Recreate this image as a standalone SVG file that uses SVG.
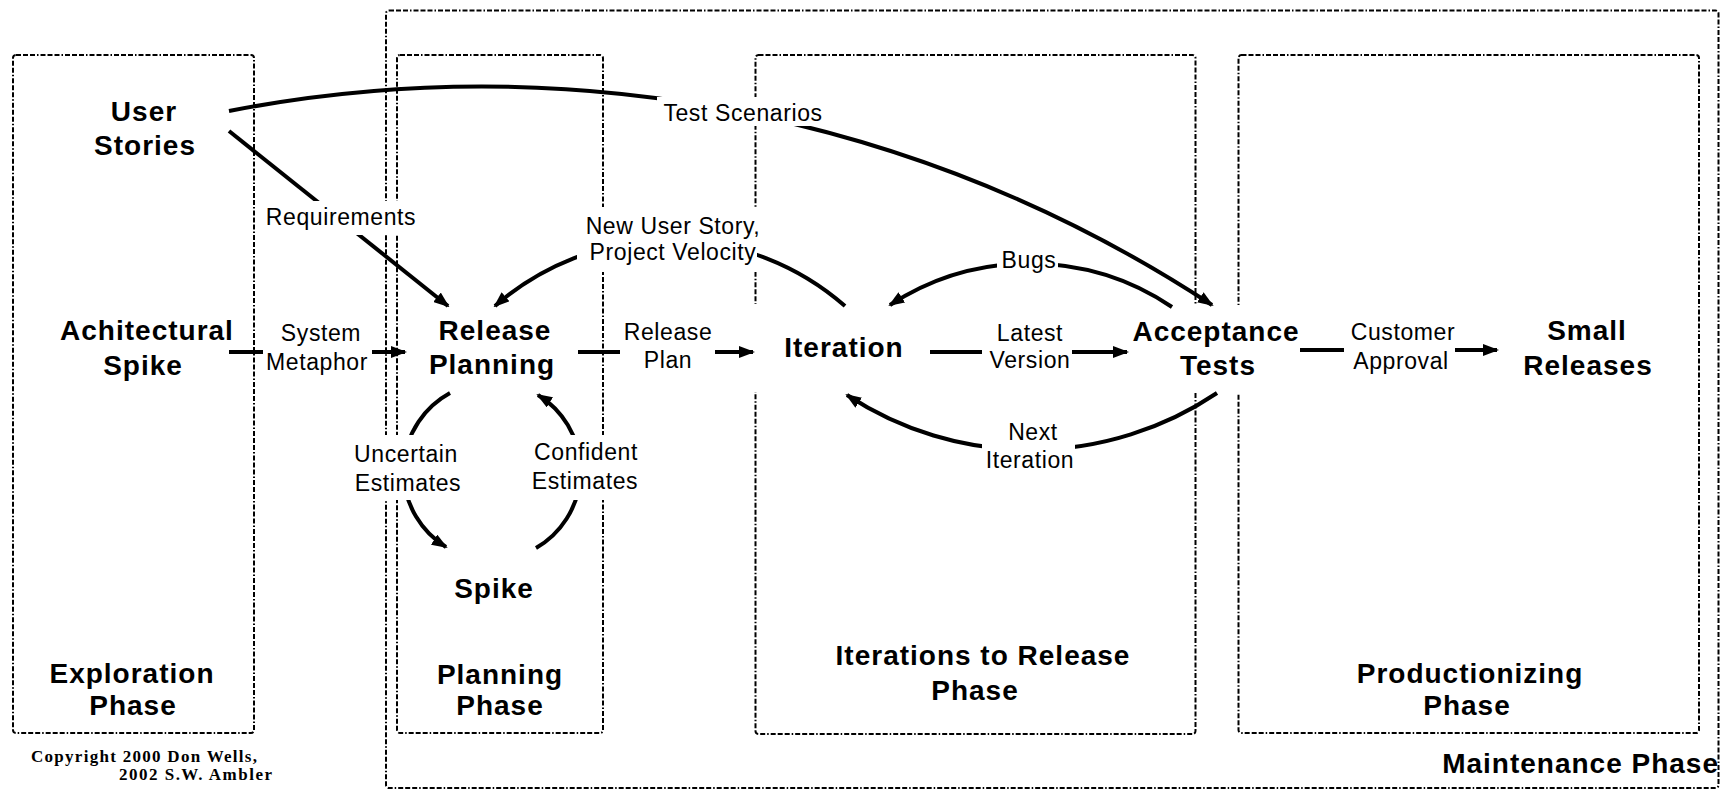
<svg xmlns="http://www.w3.org/2000/svg" width="1732" height="790" viewBox="0 0 1732 790">
<defs>
<style>
.phase{fill:none;stroke:#000;stroke-width:2;stroke-dasharray:5 2 5 2 5 2 1.5 2}
.node{font-family:"Liberation Sans",Arial,sans-serif;font-weight:bold;font-size:28px;letter-spacing:1px;text-anchor:middle;fill:#000}
.lbl{font-family:"Liberation Sans",Arial,sans-serif;font-size:23px;letter-spacing:0.6px;text-anchor:middle;fill:#000}
.bg{fill:#fff;stroke:none}
.conn{fill:none;stroke:#000;stroke-width:4}
.copy{font-family:"Liberation Serif","Times New Roman",serif;font-weight:bold;font-size:17px;fill:#000}
</style>
<marker id="arrow" markerUnits="userSpaceOnUse" markerWidth="16" markerHeight="12" viewBox="0 0 16 12" refX="14" refY="6" orient="auto">
<path d="M0,0 L16,6 L0,12 z" fill="#000"/>
</marker>
</defs>
<rect width="1732" height="790" fill="#fff"/>

<g id="phases">
<g id="maintenance-phase">
<rect class="phase" x="386" y="10.5" width="1332.5" height="777.5" rx="3"/>
<text class="node" x="1719" y="773" style="text-anchor:end">Maintenance Phase</text>
</g>
<g id="exploration-phase">
<rect class="phase" x="13" y="55" width="241" height="678" rx="3"/>
<text class="node" x="132" y="683">Exploration</text>
<text class="node" x="133" y="715">Phase</text>
</g>
<g id="planning-phase">
<rect class="phase" x="397" y="55" width="206" height="678" rx="3"/>
<text class="node" x="500" y="684">Planning</text>
<text class="node" x="500" y="715">Phase</text>
</g>
<g id="iterations-phase">
<rect class="phase" x="755.5" y="55" width="440" height="679" rx="3"/>
<text class="node" x="983" y="665">Iterations to Release</text>
<text class="node" x="975" y="700">Phase</text>
</g>
<g id="productionizing-phase">
<rect class="phase" x="1238.5" y="55" width="460.5" height="678" rx="3"/>
<text class="node" x="1470" y="683">Productionizing</text>
<text class="node" x="1467" y="715">Phase</text>
</g>
</g>

<g id="node-user-stories">
<rect class="bg" x="88" y="95" width="141" height="68"/>
<text class="node" x="144" y="121">User</text>
<text class="node" x="145" y="155">Stories</text>
</g>
<g id="node-architectural-spike">
<rect class="bg" x="56" y="316" width="173" height="68"/>
<text class="node" x="147" y="340">Achitectural</text>
<text class="node" x="143" y="375">Spike</text>
</g>
<g id="node-release-planning">
<rect class="bg" x="405" y="306" width="173" height="87"/>
<text class="node" x="495" y="340">Release</text>
<text class="node" x="492" y="374">Planning</text>
</g>
<g id="node-iteration">
<rect class="bg" x="753" y="304" width="177" height="88"/>
<text class="node" x="844" y="357">Iteration</text>
</g>
<g id="node-acceptance-tests">
<rect class="bg" x="1127" y="305" width="173" height="88"/>
<text class="node" x="1216" y="341">Acceptance</text>
<text class="node" x="1218" y="375">Tests</text>
</g>
<g id="node-small-releases">
<rect class="bg" x="1497" y="316" width="170" height="68"/>
<text class="node" x="1587" y="340">Small</text>
<text class="node" x="1588" y="375">Releases</text>
</g>
<g id="node-spike">
<rect class="bg" x="440" y="548" width="110" height="60"/>
<text class="node" x="494" y="598">Spike</text>
</g>

<g id="connectors">
<path class="conn" d="M229 111 A1331 1331 0 0 1 1212 305" marker-end="url(#arrow)"/>
<path class="conn" d="M229 131 L448 306" marker-end="url(#arrow)"/>
<path class="conn" d="M845 306 A265.5 265.5 0 0 0 495 306" marker-end="url(#arrow)"/>
<path class="conn" d="M1172 307 A255.4 255.4 0 0 0 890 305" marker-end="url(#arrow)"/>
<path class="conn" d="M1217 393 A334 334 0 0 1 847 395" marker-end="url(#arrow)"/>
<path class="conn" d="M450 393 A89 89 0 0 0 446 547" marker-end="url(#arrow)"/>
<path class="conn" d="M536 548 A89 89 0 0 0 538 395" marker-end="url(#arrow)"/>
<path class="conn" d="M229 352 L405 352" marker-end="url(#arrow)"/>
<path class="conn" d="M578 352 L753 352" marker-end="url(#arrow)"/>
<path class="conn" d="M930 352 L1127 352" marker-end="url(#arrow)"/>
<path class="conn" d="M1300 350 L1497 350" marker-end="url(#arrow)"/>

<g id="label-test-scenarios">
<rect class="bg" x="657" y="97" width="171" height="29"/>
<text class="lbl" x="743" y="121">Test Scenarios</text>
</g>
<g id="label-requirements">
<rect class="bg" x="262" y="201" width="158" height="34"/>
<text class="lbl" x="341" y="225">Requirements</text>
</g>
<g id="label-new-user-story">
<rect class="bg" x="577" y="207" width="180" height="65"/>
<text class="lbl" x="673" y="234">New User Story,</text>
<text class="lbl" x="673" y="260">Project Velocity</text>
</g>
<g id="label-bugs">
<rect class="bg" x="997" y="247" width="61" height="28"/>
<text class="lbl" x="1029" y="268">Bugs</text>
</g>
<g id="label-system-metaphor">
<rect class="bg" x="263" y="320" width="109" height="56"/>
<text class="lbl" x="321" y="341">System</text>
<text class="lbl" x="317" y="370">Metaphor</text>
</g>
<g id="label-release-plan">
<rect class="bg" x="620" y="320" width="95" height="56"/>
<text class="lbl" x="668" y="340">Release</text>
<text class="lbl" x="668" y="368">Plan</text>
</g>
<g id="label-latest-version">
<rect class="bg" x="982" y="320" width="90" height="56"/>
<text class="lbl" x="1030" y="341">Latest</text>
<text class="lbl" x="1030" y="368">Version</text>
</g>
<g id="label-customer-approval">
<rect class="bg" x="1344" y="320" width="111" height="56"/>
<text class="lbl" x="1403" y="340">Customer</text>
<text class="lbl" x="1401" y="369">Approval</text>
</g>
<g id="label-next-iteration">
<rect class="bg" x="982" y="420" width="93" height="55"/>
<text class="lbl" x="1033" y="440">Next</text>
<text class="lbl" x="1030" y="468">Iteration</text>
</g>
<g id="label-uncertain-estimates">
<rect class="bg" x="350" y="435" width="116" height="65"/>
<text class="lbl" x="406" y="462">Uncertain</text>
<text class="lbl" x="408" y="491">Estimates</text>
</g>
<g id="label-confident-estimates">
<rect class="bg" x="528" y="435" width="114" height="65"/>
<text class="lbl" x="586" y="460">Confident</text>
<text class="lbl" x="585" y="489">Estimates</text>
</g>
</g>

<g id="copyright">
<text class="copy" x="31" y="762" textLength="226" lengthAdjust="spacing">Copyright 2000 Don Wells,</text>
<text class="copy" x="119" y="780" textLength="153" lengthAdjust="spacing">2002 S.W. Ambler</text>
</g>
</svg>
